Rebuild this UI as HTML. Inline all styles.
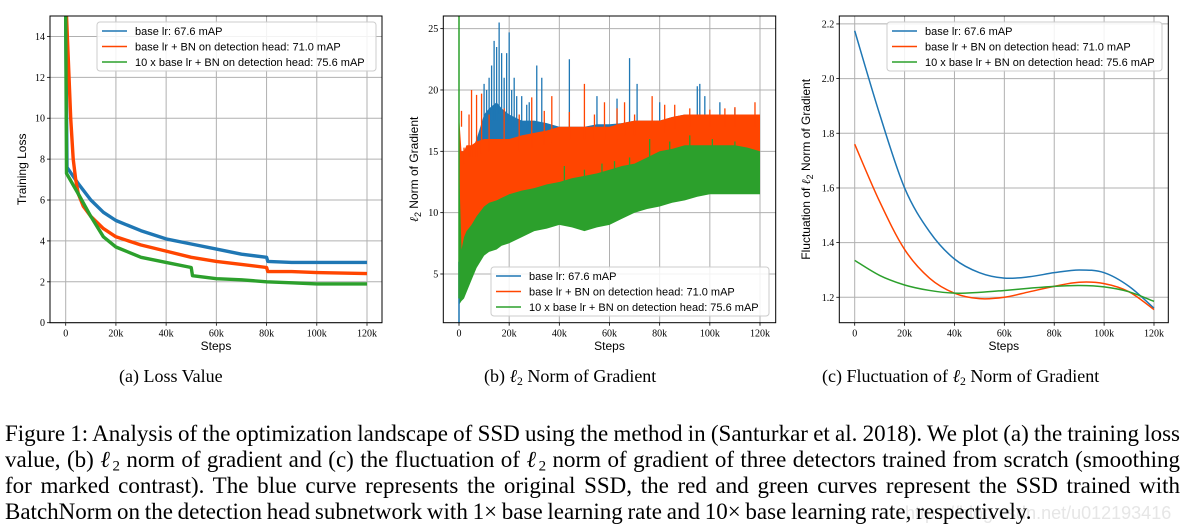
<!DOCTYPE html>
<html><head><meta charset="utf-8">
<style>
html,body{margin:0;padding:0;background:#fff;}
body{width:1185px;height:532px;position:relative;overflow:hidden;font-family:"Liberation Serif",serif;}
svg{position:absolute;left:0;top:0;}
.cap{position:absolute;left:5px;width:1175px;font-size:23px;line-height:26px;white-space:nowrap;color:#000;}
.j{text-align:justify;text-align-last:justify;word-spacing:-2px;}
.cap sub,.sub sub{font-size:0.65em;vertical-align:-0.25em;line-height:0;}
.sub{position:absolute;top:366px;font-size:18px;white-space:nowrap;}
.wm{position:absolute;left:905px;top:503px;font-family:"Liberation Sans",sans-serif;font-size:18px;color:#e6e6e6;}
</style></head><body>
<svg id="fig" width="1185" height="360"></svg>
<div class="sub" style="left:119px">(a) Loss Value</div>
<div class="sub" style="left:484px">(b) <i>ℓ</i><sub>2</sub> Norm of Gradient</div>
<div class="sub" style="left:822px">(c) Fluctuation of <i>ℓ</i><sub>2</sub> Norm of Gradient</div>
<div class="wm">https://blog.csdn.net/u012193416</div>
<div class="cap j" style="top:421px">Figure 1: Analysis of the optimization landscape of SSD using the method in (Santurkar et al. 2018). We plot (a) the training loss</div>
<div class="cap j" style="top:447px">value, (b) <i>ℓ</i><sub>2</sub> norm of gradient and (c) the fluctuation of <i>ℓ</i><sub>2</sub> norm of gradient of three detectors trained from scratch (smoothing</div>
<div class="cap j" style="top:473px">for marked contrast). The blue curve represents the original SSD, the red and green curves represent the SSD trained with</div>
<div class="cap" style="top:499px;word-spacing:-1px">BatchNorm on the detection head subnetwork with 1× base learning rate and 10× base learning rate, respectively.</div>
<script>
// ---------- data ----------
const xTicks=[0,20,40,60,80,100,120];
const xTickLabels=["0","20k","40k","60k","80k","100k","120k"];
const legendLabels=["base lr: 67.6 mAP","base lr + BN on detection head: 71.0 mAP","10 x base lr + BN on detection head: 75.6 mAP"];
const colors=["#1f77b4","#ff4500","#2ca02c"];
// (a) loss
const lossBlueX=[0,0.5,5,10,15,20,30,40,50,60,70,80,80.5,90,100,110,120];
const lossBlueY=[15,7.6,6.8,6.0,5.4,5.0,4.5,4.1,3.85,3.6,3.35,3.2,3.0,2.95,2.95,2.95,2.95];
const lossRedX=[0.3,1,2,3,4,5,7,10,15,20,30,40,50,60,70,80,80.5,90,100,120];
const lossRedY=[15,13,10,8,7,6.3,5.7,5.2,4.6,4.2,3.8,3.5,3.2,3.0,2.85,2.7,2.5,2.5,2.45,2.4];
const lossGreenX=[0,0.3,5,10,15,20,30,40,50,50.5,60,70,80,90,100,120];
const lossGreenY=[15,7.3,6.3,5.2,4.2,3.7,3.2,2.95,2.7,2.3,2.15,2.1,2.0,1.95,1.9,1.9];
const lossYTicks=[0,2,4,6,8,10,12,14];
// (b) gradient bands
const gradX=[0,1,2,3,5,7,10,12,15,17,20,25,30,35,40,45,50,55,60,65,70,75,80,85,90,95,100,105,110,115,120];
const gradBlueLo=[5,5,5,5.5,6,8,9,10,10,10.5,10,10.5,11,11,11.5,11.5,11.5,12,12,12.5,12.5,13,13.5,13.5,14,14,14,14,13.5,14,14];
const gradBlueHi=[15,15,15,15,15,16,18,18.5,19,18.5,18,17.5,17.5,17.3,17,17,17,17.2,17.2,17.3,17.5,17.5,17.5,17.8,18,18,18,18,18,18,18];
const gradRedLo=[6,6.5,7,8,9,9.5,10.5,10.5,11,11,11.5,11.5,12,12,12.5,12.2,12,12.3,12.5,12.8,13,13.5,14,14,14,14,14,13.8,13.5,13.8,14];
const gradRedHi=[18,15,15,15.5,15.5,15.8,16,16,16,16,16,16.3,16.5,16.7,17,17,17,17,17,17.3,17.5,17.5,17.5,17.8,18,18,18,18,18,18,18];
const gradGreenLo=[2.5,2.8,3,3.5,4.5,5.5,6.5,6.8,7,7.3,7.5,8,8.5,8.7,9,8.8,8.5,8.8,9,9.5,10,10.3,10.5,10.8,11,11.3,11.5,11.5,11.5,11.5,11.5];
const gradGreenHi=[14,7,8,8.5,9,9.7,10.5,10.8,11,11.2,11.5,11.8,12,12.3,12.5,12.8,13,13.2,13.5,13.8,14,14.5,15,15.2,15.5,15.5,15.5,15.5,15.5,15.3,15];
const blueSpikeX=[10,11,12,13,14,15,16,17,18,19,20,21,22,23,25,27,28,31,33,44,55,63,68,71,80,95,96,98,104,110];
const blueSpikeY=[20.5,20,21,22,24,23.5,25.5,23,21,23,24.7,20,21,19.5,19.5,18.8,19,22,21,22.5,19.5,19.3,22.6,20.5,19,20.3,20.5,19.5,19,18.5];
const redSpikeX=[1,2,4,5,7,9,12,18,24,29,34,37,44,50,54,58,63,66,70,77,82,86,92,100,106,110,118];
const redSpikeY=[18.3,15.3,18,20,19.6,19.7,18,18.5,18,19.4,18.3,19.5,18.2,20.5,18,19,18.5,19,18,19.5,18.8,18.8,18.5,18.4,18.5,18.6,19];
const greenSpikeX=[42,50,57,62,68,76,84,92,101,110];
const greenSpikeY=[13.8,13.5,14,14.2,14.5,16,15.8,16.3,16,15.8];
const gradYTicks=[5,10,15,20,25];
// (c) fluctuation
const flucX=[0,10,20,30,40,50,60,70,80,90,100,110,120];
const flucBlue=[2.175,1.87,1.6,1.44,1.34,1.29,1.27,1.275,1.29,1.30,1.29,1.24,1.16];
const flucRed=[1.76,1.55,1.375,1.27,1.215,1.195,1.20,1.22,1.24,1.255,1.25,1.22,1.155];
const flucGreen=[1.335,1.28,1.245,1.225,1.215,1.218,1.225,1.233,1.24,1.243,1.238,1.22,1.185];
const flucYTicks=[1.2,1.4,1.6,1.8,2.0,2.2];

// ---------- drawing ----------
const NS="http://www.w3.org/2000/svg";
const svg=document.getElementById('fig');
function el(tag,attrs,parent){const e=document.createElementNS(NS,tag);for(const k in attrs)e.setAttribute(k,attrs[k]);(parent||svg).appendChild(e);return e;}
function panel(o){
  const g=el('g',{});
  
  
  const sx=v=>o.x0+(v-0)/120*(o.x120-o.x0);
  const sy=v=>o.yb-(v-o.ymin)/(o.ymax-o.ymin)*(o.yb-o.yt);
  const clipId='clip'+o.id;
  const cp=el('clipPath',{id:clipId},g);el('rect',{x:o.L,y:o.yt,width:o.R-o.L,height:o.yb-o.yt},cp);
  xTicks.forEach((t,i)=>{
    const gl=el('line',{x1:sx(t),x2:sx(t),y1:o.yt,y2:o.yb,stroke:'#b0b0b0','stroke-width':1},g);
    
    el('line',{x1:sx(t),x2:sx(t),y1:o.yb,y2:o.yb+3,stroke:'#000','stroke-width':0.8},g);
    const tx=el('text',{x:sx(t),y:o.yb+14,'font-size':10,'text-anchor':'middle','font-family':'Liberation Serif, serif'},g);
    tx.textContent=xTickLabels[i];
    
  });
  o.yTicks.forEach(t=>{
    const gl=el('line',{x1:o.L,x2:o.R,y1:sy(t),y2:sy(t),stroke:'#b0b0b0','stroke-width':1},g);
    
    el('line',{x1:o.L-3,x2:o.L,y1:sy(t),y2:sy(t),stroke:'#000','stroke-width':0.8},g);
    const tx=el('text',{x:o.L-5,y:sy(t)+3.5,'font-size':10,'text-anchor':'end','font-family':'Liberation Serif, serif'},g);
    tx.textContent=o.fmt?o.fmt(t):String(t);
    
  });
  const plot=el('g',{'clip-path':`url(#${clipId})`},g);
  o.draw(plot,sx,sy);
  el('rect',{x:o.L,y:o.yt,width:o.R-o.L,height:o.yb-o.yt,fill:'none',stroke:'#000','stroke-width':1},g);
  const xl=el('text',{x:(o.L+o.R)/2,y:350,'font-size':12,'text-anchor':'middle','font-family':'Liberation Sans, sans-serif'},g);
  xl.textContent='Steps';
  const yl=el('text',{transform:`translate(${o.ylx},${(o.yt+o.yb)/2}) rotate(-90)`,'font-size':12,'text-anchor':'middle','font-family':'Liberation Sans, sans-serif'},g);
  yl.innerHTML=o.ylabel;
  const lg=el('g',{},g);
  
  el('rect',{x:o.lg[0],y:o.lg[1],width:o.lg[2],height:49,rx:3,fill:'#fff','fill-opacity':0.85,stroke:'#ccc','stroke-width':1},lg);
  legendLabels.forEach((lab,i)=>{
    const yy=o.lg[1]+9+i*15.5;
    const e=el('g',{},lg);
    
    el('line',{x1:o.lg[0]+5,x2:o.lg[0]+30,y1:yy,y2:yy,stroke:colors[i],'stroke-width':1.5},e);
    const t=el('text',{x:o.lg[0]+38,y:yy+4,'font-size':11,'font-family':'Liberation Sans, sans-serif'},e);
    t.textContent=lab;
  });
}
function path(xs,ys,sx,sy){return xs.map((x,i)=>(i?'L':'M')+sx(x).toFixed(1)+','+sy(ys[i]).toFixed(1)).join('');}
function smooth(xs,ys,sx,sy){
  const p=xs.map((x,i)=>[sx(x),sy(ys[i])]);let d='M'+p[0].join(',');
  for(let i=0;i<p.length-1;i++){const p0=p[i-1]||p[i],p1=p[i],p2=p[i+1],p3=p[i+2]||p2;
    d+=`C${p1[0]+(p2[0]-p0[0])/6},${p1[1]+(p2[1]-p0[1])/6} ${p2[0]-(p3[0]-p1[0])/6},${p2[1]-(p3[1]-p1[1])/6} ${p2[0]},${p2[1]}`;}
  return d;}
function band(xs,lo,hi,sx,sy){return path(xs,hi,sx,sy)+xs.slice().reverse().map((x,i)=>'L'+sx(x).toFixed(1)+','+sy(lo[xs.length-1-i]).toFixed(1)).join('')+'Z';}
function spikes(g,xs,ys,base,xsB,sx,sy,c,name){
  xs.forEach((x,i)=>{let j=0;while(j<xsB.length-1&&xsB[j+1]<x)j++;
    const b=base[j]-1;
    const s=el('line',{x1:sx(x),x2:sx(x),y1:sy(b),y2:sy(ys[i]),stroke:c,'stroke-width':1.3},g);
    });
}
panel({id:'a',name:'loss-chart',L:50,R:382,yt:16,yb:322.7,x0:65.7,x120:367,ymin:0,ymax:15,yTicks:lossYTicks,ylx:26,
  ylabel:'Training Loss',lg:[97,22,279],
  draw:(g,sx,sy)=>{
    [[lossBlueX,lossBlueY,'loss-blue'],[lossRedX,lossRedY,'loss-red'],[lossGreenX,lossGreenY,'loss-green']].forEach((s,i)=>{
      const p=el('path',{d:path(s[0],s[1],sx,sy),fill:'none',stroke:colors[i],'stroke-width':3.4,'stroke-linejoin':'round'},g);
      });
  }});
panel({id:'b',name:'gradient-norm-chart',L:443.3,R:775.7,yt:16,yb:322.7,x0:459,x120:760,ymin:1.03,ymax:26.03,yTicks:gradYTicks,ylx:418,
  ylabel:'<tspan font-style="italic" font-family="Liberation Serif, serif">ℓ</tspan><tspan font-size="9" dy="3">2</tspan><tspan dy="-3"> Norm of Gradient</tspan>',lg:[491,267,278],
  draw:(g,sx,sy)=>{
    const b=el('path',{d:band(gradX,gradBlueLo,gradBlueHi,sx,sy),fill:colors[0]},g);
    
    spikes(g,blueSpikeX,blueSpikeY,gradBlueHi,gradX,sx,sy,colors[0],'gradient-blue-spike');
    const r=el('path',{d:band(gradX,gradRedLo,gradRedHi,sx,sy),fill:colors[1]},g);
    
    spikes(g,redSpikeX,redSpikeY,gradRedHi,gradX,sx,sy,colors[1],'gradient-red-spike');
    const gr=el('path',{d:band(gradX,gradGreenLo,gradGreenHi,sx,sy),fill:colors[2]},g);
    
    spikes(g,greenSpikeX,greenSpikeY,gradGreenHi,gradX,sx,sy,colors[2],'gradient-green-spike');
    el('line',{x1:sx(0),x2:sx(0),y1:sy(1),y2:sy(6),stroke:colors[0],'stroke-width':1.5},g);
    el('line',{x1:sx(0),x2:sx(0),y1:sy(3),y2:sy(27),stroke:colors[2],'stroke-width':1.5},g);
  }});
panel({id:'c',name:'fluctuation-chart',L:839.3,R:1168.3,yt:16,yb:322.7,x0:854.7,x120:1154,ymin:1.107,ymax:2.229,yTicks:flucYTicks,ylx:810,
  fmt:t=>t.toFixed(1),
  ylabel:'Fluctuation of <tspan font-style="italic" font-family="Liberation Serif, serif">ℓ</tspan><tspan font-size="9" dy="3">2</tspan><tspan dy="-3"> Norm of Gradient</tspan>',lg:[887,22,275],
  draw:(g,sx,sy)=>{
    [[flucBlue,'fluctuation-blue'],[flucRed,'fluctuation-red'],[flucGreen,'fluctuation-green']].forEach((s,i)=>{
      const p=el('path',{d:smooth(flucX,s[0],sx,sy),fill:'none',stroke:colors[i],'stroke-width':1.5},g);
      });
  }});
</script>
</body></html>
